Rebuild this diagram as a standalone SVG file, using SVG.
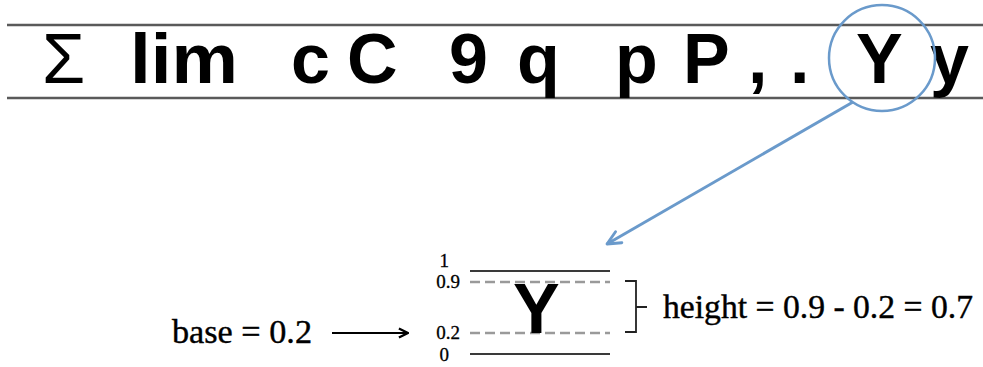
<svg xmlns="http://www.w3.org/2000/svg" width="983" height="367" viewBox="0 0 983 367">
<style>
.big{font-family:"Liberation Sans",Arial,sans-serif;font-weight:bold;font-size:70px;fill:#000}
.lbl{font-family:"Liberation Serif","Times New Roman",serif;font-size:34px;fill:#000;stroke:#000;stroke-width:0.4}
.sm{font-family:"Liberation Serif","Times New Roman",serif;font-size:19px;fill:#000;stroke:#000;stroke-width:0.3;text-anchor:end}
.rule{stroke:#5a5a5a;stroke-width:2.5}
.solid{stroke:#3a3a3a;stroke-width:2.2}
.dash{stroke:#9a9a9a;stroke-width:2.5;stroke-dasharray:10 5}
</style>
<defs>
<marker id="blueHead" viewBox="0 0 10 10" refX="9" refY="5" markerWidth="18" markerHeight="18" orient="auto" markerUnits="userSpaceOnUse">
<path d="M1.5,1.5 L9,5 L1.5,8.5" fill="none" stroke="#6a9acb" stroke-width="1.6" stroke-linecap="round" stroke-linejoin="round"/>
</marker>
<marker id="blackHead" viewBox="0 0 10 10" refX="9" refY="5" markerWidth="13" markerHeight="13" orient="auto" markerUnits="userSpaceOnUse">
<path d="M2,1.5 L9,5 L2,8.5" fill="none" stroke="#000" stroke-width="1.8"/>
</marker>
</defs>
<rect width="983" height="367" fill="#fff"/>
<g id="glyph-strip">
<line class="rule" x1="7" y1="25" x2="983" y2="25"/>
<line class="rule" x1="7" y1="98" x2="983" y2="98"/>
<text class="big" x="42" y="83" style="font-weight:normal" textLength="43">Σ</text>
<text class="big" x="130" y="83" textLength="108" lengthAdjust="spacingAndGlyphs">lim</text>
<text class="big" x="291" y="83">c</text>
<text class="big" x="347" y="83">C</text>
<text class="big" x="449" y="83">9</text>
<text class="big" x="517" y="83">q</text>
<text class="big" x="615" y="83">p</text>
<text class="big" x="683" y="83">P</text>
<text class="big" x="748" y="83">,</text>
<text class="big" x="790" y="83">.</text>
<text class="big" x="856" y="83">Y</text>
<text class="big" x="930" y="83">y</text>
</g>
<g id="magnifier">
<circle cx="882" cy="58" r="53" fill="none" stroke="#6a9acb" stroke-width="2.5"/>
</g>
<g id="metrics-box">
<line class="solid" x1="470" y1="271" x2="610" y2="271"/>
<line class="dash" x1="470" y1="282" x2="610" y2="282"/>
<line class="dash" x1="470" y1="333" x2="610" y2="333"/>
<line class="solid" x1="470" y1="354" x2="610" y2="354"/>
<text class="big" x="513" y="333">Y</text>
<text class="sm" x="449" y="267">1</text>
<text class="sm" x="460" y="288">0.9</text>
<text class="sm" x="460" y="339">0.2</text>
<text class="sm" x="449" y="361">0</text>
</g>
<g id="height-label">
<path d="M625,281 H636 V332 H625 M636,307 H647" fill="none" stroke="#222" stroke-width="1.8"/>
<text class="lbl" x="663" y="318" textLength="310" lengthAdjust="spacingAndGlyphs">height = 0.9 - 0.2 = 0.7</text>
</g>
<g id="base-label">
<text class="lbl" x="172" y="343" textLength="140" lengthAdjust="spacingAndGlyphs">base = 0.2</text>
</g>
<g id="connectors">
<line x1="853" y1="102" x2="607" y2="244" stroke="#6a9acb" stroke-width="3" marker-end="url(#blueHead)"/>
<line x1="332" y1="333" x2="408" y2="333" stroke="#000" stroke-width="2" marker-end="url(#blackHead)"/>
</g>
</svg>
